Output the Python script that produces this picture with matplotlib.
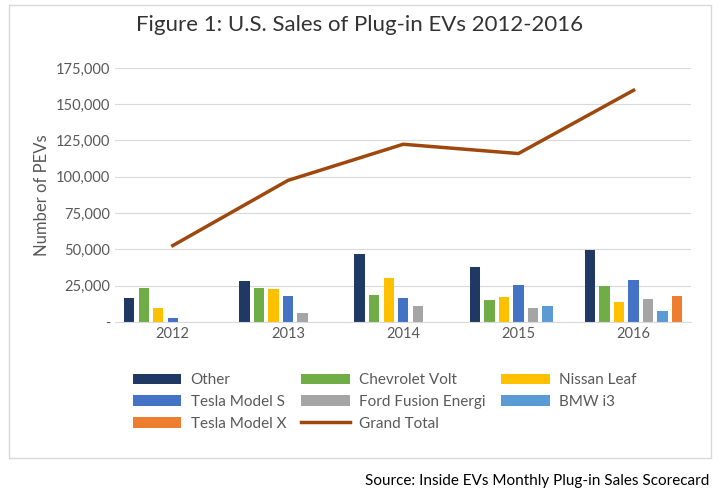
import matplotlib.pyplot as plt
import numpy as np

years = ['2012', '2013', '2014', '2015', '2016']
series = ['Other', 'Chevrolet Volt', 'Nissan Leaf', 'Tesla Model S',
          'Ford Fusion Energi', 'BMW i3', 'Tesla Model X']
other = [16500, 28000, 46500, 37500, 49500]
volt = [23500, 23100, 18800, 15400, 24700]
leaf = [9800, 22600, 30200, 17300, 14000]
model_s = [2600, 18000, 16700, 25200, 29200]
fusion = [0, 6000, 11000, 9700, 15900]
bmw_i3 = [0, 0, 0, 11000, 7600]
model_x = [0, 0, 0, 0, 18200]
grand_total = [52600, 97500, 122400, 116000, 159600]

colors = ['#203864', '#70ad47', '#ffc000', '#4472c4', '#a5a5a5', '#5b9bd5', '#ed7d31']
values = [other, volt, leaf, model_s, fusion, bmw_i3, model_x]

plt.rcParams['font.family'] = ['Lato', 'DejaVu Sans']
fig = plt.figure(figsize=(7.2, 5.03), dpi=100)
ax = fig.add_axes([0.16, 0.36, 0.8, 0.505])

x = np.arange(len(years))
w = 0.09
handles = []
for i, (name, vals) in enumerate(zip(series, values)):
    h = ax.bar(x + (i - 3) * w * 1.4, vals, w, color=colors[i], label=name)
    handles.append(h)
line, = ax.plot(x, grand_total, color='#9e480e', lw=2.5, label='Grand Total')
handles.append(line)

ax.set_ylim(0, 175000)
ax.set_xlim(-0.5, 4.5)
ax.set_yticks(range(0, 175001, 25000))
ax.set_yticklabels(['-'] + [f'{v:,}' for v in range(25000, 175001, 25000)])
ax.set_xticks(x)
ax.set_xticklabels(years)
ax.grid(axis='y', color='#d9d9d9', lw=0.8)
ax.set_axisbelow(True)
for s in ['top', 'right', 'left']:
    ax.spines[s].set_visible(False)
ax.spines['bottom'].set_color('#d9d9d9')
ax.tick_params(length=0, labelsize=10.5, colors='#595959')
ax.set_ylabel('Number of PEVs', fontsize=12, color='#595959')
fig.suptitle('Figure 1: U.S. Sales of Plug-in EVs 2012-2016', fontsize=16, y=0.97, color='#333333')

order = [0, 3, 6, 1, 4, 7, 2, 5]
fig.legend(handles=[handles[i] for i in order], loc='upper left', bbox_to_anchor=(0.165, 0.285),
           ncol=3, frameon=False, fontsize=11, handlelength=3.2, columnspacing=1.0,
           labelcolor='#595959', handletextpad=0.6)
fig.text(0.985, 0.035, 'Source: Inside EVs Monthly Plug-in Sales Scorecard', ha='right', fontsize=11)
fig.patches.append(plt.Rectangle((0.012, 0.09), 0.975, 0.9, transform=fig.transFigure,
                                 fill=False, ec='#d9d9d9', lw=1))
fig.savefig('out.png')
